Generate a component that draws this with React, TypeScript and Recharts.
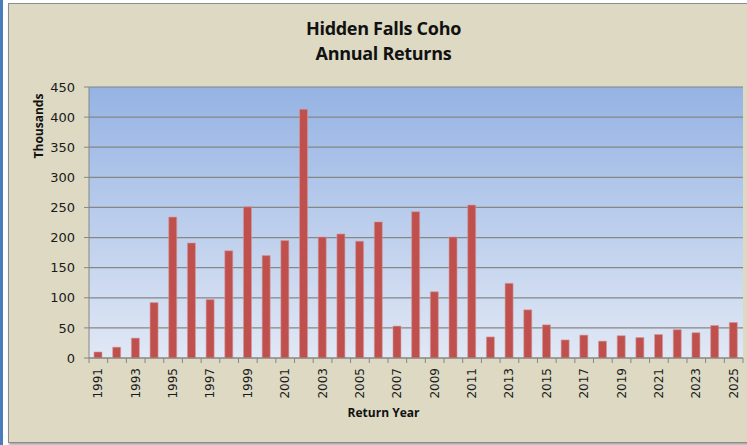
import { Bar, BarChart, CartesianGrid, XAxis, YAxis } from "recharts";

const years = [
  "1991", "1992", "1993", "1994", "1995", "1996", "1997", "1998", "1999", "2000",
  "2001", "2002", "2003", "2004", "2005", "2006", "2007", "2008", "2009", "2010",
  "2011", "2012", "2013", "2014", "2015", "2016", "2017", "2018", "2019", "2020",
  "2021", "2022", "2023", "2024", "2025",
];
const returns = [
  10, 18, 33, 92, 234, 191, 97, 178, 251, 170,
  195, 413, 201, 206, 194, 226, 53, 243, 110, 201,
  254, 35, 124, 80, 55, 30, 38, 28, 37, 34,
  39, 47, 42, 54, 59,
];
const yTicks = [0, 50, 100, 150, 200, 250, 300, 350, 400, 450];

const data = years.map((year, i) => ({ year, value: returns[i] }));

const W = 747;
const H = 445;
const PLOT_LEFT = 89;
const PLOT_RIGHT = 743;
const BAND = (PLOT_RIGHT - PLOT_LEFT) / years.length;
const FONT = "'Open Sans', 'Noto Sans', sans-serif";
const TICK_FONT = "'DejaVu Sans', sans-serif";

function YearTick(props: any) {
  const { x, y, payload, index } = props;
  return (
    <g>
      <line x1={x - BAND / 2} y1={y} x2={x - BAND / 2} y2={y + 5} stroke="#868686" />
      {index === years.length - 1 && (
        <line x1={x + BAND / 2} y1={y} x2={x + BAND / 2} y2={y + 5} stroke="#868686" />
      )}
      {index % 2 === 0 && (
        <text
          x={x}
          y={y + 10}
          transform={`rotate(-90 ${x} ${y + 10})`}
          textAnchor="end"
          dominantBaseline="central"
          fontSize={12}
          fill="#1a1a1a"
          fontFamily={TICK_FONT}
        >
          {payload.value}
        </text>
      )}
    </g>
  );
}

export default function App() {
  return (
    <div style={{ position: "fixed", left: 0, top: 0, width: W, height: H, background: "#fff", overflow: "hidden" }}>
      <div style={{ position: "absolute", left: 0, top: 0, width: 3, height: H, background: "#4a7ebb" }} />
      <div
        style={{
          position: "absolute",
          left: 8,
          top: 3,
          width: W,
          height: 438,
          background: "#ddd9c3",
          border: "1px solid #8c8c8c",
          boxShadow: "1px 2px 2px rgba(0,0,0,0.35)",
        }}
      />
      <div
        style={{
          position: "absolute",
          left: 0,
          width: W + 20,
          top: 16,
          textAlign: "center",
          fontFamily: FONT,
          fontWeight: 700,
          fontSize: 18,
          lineHeight: "25px",
          color: "#111",
          letterSpacing: -0.3,
        }}
      >
        Hidden Falls Coho
        <br />
        Annual Returns
      </div>
      <div
        style={{
          position: "absolute",
          left: 38,
          top: 126,
          transform: "translate(-50%, -50%) rotate(-90deg)",
          fontFamily: FONT,
          fontWeight: 700,
          fontSize: 12,
          color: "#111",
          whiteSpace: "nowrap",
        }}
      >
        Thousands
      </div>
      <div
        style={{
          position: "absolute",
          left: 0,
          width: W + 20,
          top: 404,
          textAlign: "center",
          fontFamily: FONT,
          fontWeight: 700,
          fontSize: 12,
          color: "#111",
        }}
      >
        Return Year
      </div>
      <div style={{ position: "absolute", left: 0, top: 0 }}>
        <BarChart
          width={W}
          height={H}
          data={data}
          margin={{ top: 87, right: W - PLOT_RIGHT, left: 29, bottom: 27 }}
          barSize={8}
        >
          <defs>
            <linearGradient id="plotBg" x1="0" y1="0" x2="0" y2="1">
              <stop offset="0%" stopColor="#95b3e3" />
              <stop offset="100%" stopColor="#e1e8f5" />
            </linearGradient>
          </defs>
          <CartesianGrid
            vertical={false}
            stroke="#868686"
            strokeWidth={1.2}
            fill="url(#plotBg)"
            fillOpacity={1}
          />
          <XAxis
            dataKey="year"
            interval={0}
            height={60}
            stroke="#868686"
            tickLine={false}
            tickSize={0}
            tickMargin={0}
            tick={<YearTick />}
          />
          <YAxis
            width={60}
            domain={[0, 450]}
            ticks={yTicks}
            interval={0}
            stroke="#868686"
            tickSize={5}
            tickMargin={9}
            tick={{ fontSize: 13, fill: "#1a1a1a", fontFamily: TICK_FONT }}
          />
          <Bar dataKey="value" fill="#c0504d" stroke="#d49a98" strokeWidth={0.6} isAnimationActive={false} />
        </BarChart>
      </div>
    </div>
  );
}
